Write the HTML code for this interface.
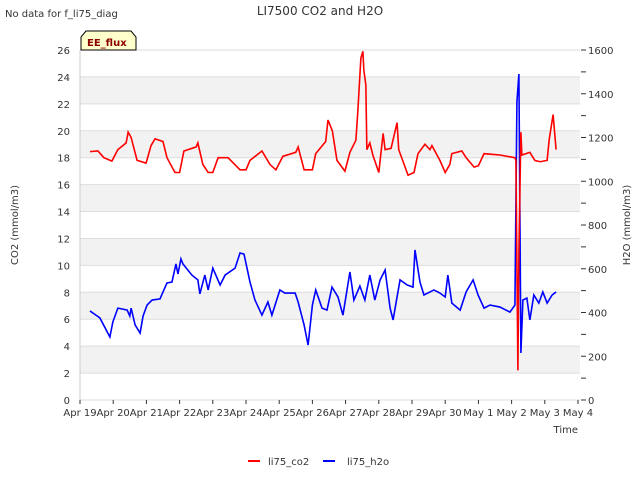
<!DOCTYPE html>
<html><head><meta charset="utf-8"><style>
body{margin:0;background:#fff;font-family:"DejaVu Sans",sans-serif}
svg text{font-family:"DejaVu Sans",sans-serif;fill:#333}
</style></head><body>
<svg id="c" width="640" height="480" xmlns="http://www.w3.org/2000/svg">
<text x="320" y="15" font-size="12" text-anchor="middle">LI7500 CO2 and H2O</text>
<text x="5" y="17" font-size="10" fill="#000">No data for f_li75_diag</text>
<g id="bands"></g><g id="grid"></g><g id="axes"></g>
<g id="series"></g>
<g>
<path d="M81,50 L81,37 L86,31 L131,31 L136,37 L136,50 Z" fill="#ffffcc" stroke="#000"/>
<text x="87" y="46" font-size="10" font-weight="bold" style="fill:#8b0000">EE_flux</text></g>
<text transform="translate(18,225) rotate(-90)" font-size="10" text-anchor="middle">CO2 (mmol/m3)</text>
<text transform="translate(630,225) rotate(-90)" font-size="10" text-anchor="middle">H2O (mmol/m3)</text>
<text x="578" y="433" font-size="10" text-anchor="end">Time</text>
<g>
<line x1="248" y1="461" x2="260" y2="461" stroke="#f00" stroke-width="2"/>
<text x="268" y="465" font-size="10">li75_co2</text>
<line x1="323" y1="461" x2="335" y2="461" stroke="#00f" stroke-width="2"/>
<text x="347" y="465" font-size="10">li75_h2o</text>
</g>
</svg>
<script>
const xTickLabels=["Apr 19","Apr 20","Apr 21","Apr 22","Apr 23","Apr 24","Apr 25","Apr 26","Apr 27","Apr 28","Apr 29","Apr 30","May 1","May 2","May 3","May 4"];
const leftTicks=[0,2,4,6,8,10,12,14,16,18,20,22,24,26];
const rightTicks=[0,200,400,600,800,1000,1200,1400,1600];
const co2Days=[0.3,0.54,0.72,0.96,1.14,1.39,1.45,1.54,1.72,1.99,2.14,2.26,2.5,2.62,2.86,3.0,3.13,3.5,3.55,3.7,3.86,4.0,4.16,4.46,4.82,5.0,5.12,5.48,5.72,5.9,6.11,6.5,6.57,6.75,7.0,7.1,7.4,7.47,7.6,7.74,7.98,8.13,8.31,8.37,8.46,8.52,8.55,8.61,8.64,8.73,8.82,9.0,9.13,9.19,9.37,9.55,9.6,9.88,10.06,10.18,10.39,10.54,10.6,10.84,11.0,11.14,11.2,11.5,11.63,11.87,12.0,12.17,12.65,13.1,13.13,13.19,13.22,13.28,13.31,13.55,13.7,13.86,14.07,14.13,14.25,14.34];
const co2Vals=[18.45,18.5,18.0,17.75,18.6,19.1,19.9,19.5,17.8,17.6,18.9,19.4,19.2,18.0,16.9,16.9,18.5,18.8,19.1,17.5,16.9,16.9,18.0,18.0,17.1,17.1,17.8,18.5,17.5,17.1,18.1,18.4,18.8,17.1,17.1,18.3,19.2,20.8,20.0,17.8,17.0,18.4,19.3,21.5,25.4,25.9,24.5,23.4,18.6,19.1,18.2,16.9,19.8,18.6,18.7,20.6,18.6,16.7,16.9,18.3,19.0,18.6,18.9,17.8,16.9,17.5,18.3,18.5,18.0,17.3,17.4,18.3,18.2,18.0,17.8,2.2,11,19.9,18.2,18.4,17.8,17.7,17.8,19.3,21.2,18.6];
const h2oDays=[0.3,0.48,0.6,0.9,0.99,1.14,1.27,1.42,1.5,1.54,1.66,1.81,1.9,2.02,2.17,2.41,2.5,2.62,2.77,2.89,2.95,3.04,3.1,3.37,3.55,3.61,3.76,3.86,4.0,4.22,4.37,4.67,4.82,4.94,5.12,5.27,5.48,5.66,5.78,6.02,6.17,6.48,6.57,6.75,6.87,7.0,7.1,7.29,7.44,7.59,7.77,7.92,8.13,8.25,8.43,8.58,8.73,8.88,9.04,9.19,9.34,9.43,9.64,9.85,10.03,10.09,10.24,10.36,10.66,10.84,11.0,11.08,11.2,11.45,11.63,11.84,11.99,12.17,12.35,12.65,12.95,13.1,13.16,13.22,13.28,13.34,13.46,13.55,13.67,13.82,13.94,14.07,14.22,14.34];
const h2oVals=[407,388,375,288,357,420,416,411,384,420,343,306,384,434,457,462,494,535,539,622,576,645,622,571,549,485,571,503,603,526,571,603,672,667,539,457,388,448,388,503,489,489,448,343,251,434,503,420,411,516,471,388,585,457,521,457,571,457,549,594,420,366,549,526,516,686,539,480,503,489,471,571,443,411,494,549,480,420,434,425,402,434,1362,1490,215,457,466,366,480,443,494,443,480,494];
const NS="http://www.w3.org/2000/svg";
const X0=80,X1=578,Y0=400,Y1=50;
const xs=d=>X0+d*(X1-X0)/15;
const yl=v=>Y0-v*(Y0-Y1)/26;
const yr=v=>Y0-v*(Y0-Y1)/1600;
function mk(p,t,a){const e=document.createElementNS(NS,t);for(const k in a)e.setAttribute(k,a[k]);document.getElementById(p).appendChild(e);return e;}
for(let v=2;v<26;v+=4){const r=mk('bands','rect',{x:X0,y:yl(v+2),width:X1-X0+2,height:yl(v)-yl(v+2),fill:'#f2f2f2'});

}
leftTicks.forEach(v=>{const l=mk('grid','line',{x1:X0,x2:X1+2,y1:yl(v),y2:yl(v),stroke:'#dddddd'});


const t=mk('axes','text',{x:X0-10,y:yl(v)+4,'font-size':10,'text-anchor':'end'});t.textContent=v;

});
mk('axes','line',{x1:X0,x2:X0,y1:Y1,y2:Y0,stroke:'#ccc'});
for(let v=0;v<=1600;v+=100){mk('axes','line',{x1:X1+3,x2:X1+8,y1:yr(v),y2:yr(v),stroke:'#333'});}
rightTicks.forEach(v=>{const t=mk('axes','text',{x:X1+10,y:yr(v)+4,'font-size':10});t.textContent=v;

});
xTickLabels.forEach((s,i)=>{mk('axes','line',{x1:xs(i),x2:xs(i),y1:Y0,y2:Y0+4,stroke:'#333'});
const t=mk('axes','text',{x:xs(i),y:Y0+16,'font-size':10,'text-anchor':'middle'});t.textContent=s;

});
const h=mk('series','polyline',{points:h2oDays.map((d,i)=>xs(d)+','+yr(h2oVals[i])).join(' '),fill:'none',stroke:'#00f','stroke-width':1.6});


const c=mk('series','polyline',{points:co2Days.map((d,i)=>xs(d)+','+yl(co2Vals[i])).join(' '),fill:'none',stroke:'#f00','stroke-width':1.6});


</script>
</body></html>
